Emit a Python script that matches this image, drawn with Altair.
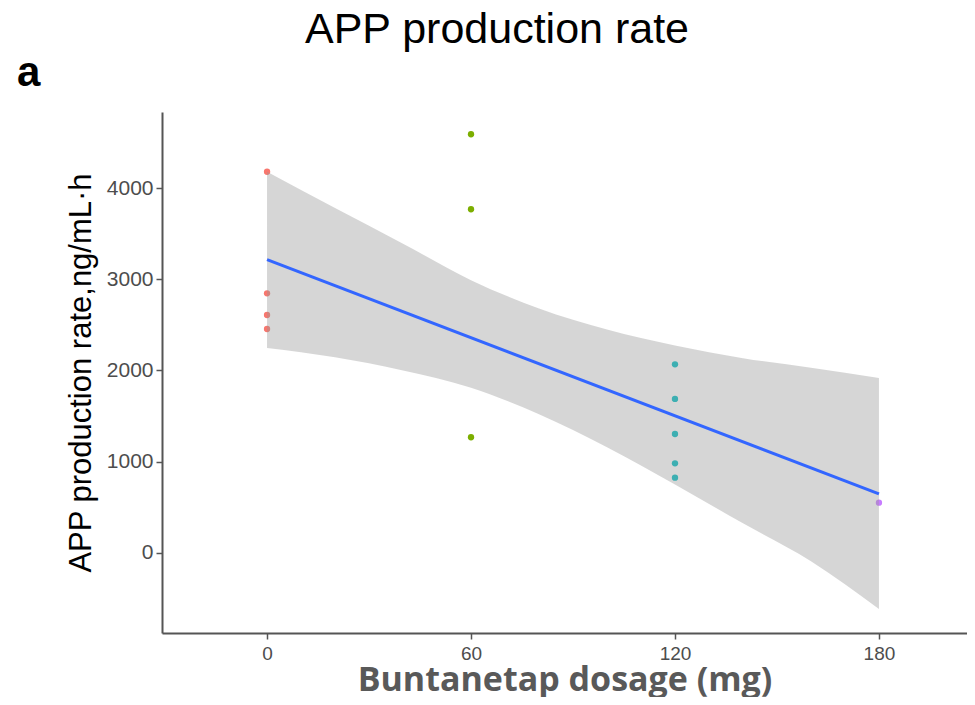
import altair as alt
import pandas as pd

# ---- data ----
dose_groups = ["0", "60", "120", "180"]
group_colors = ["#F8766D", "#7CAE00", "#00BFC4", "#C77CFF"]

pt_dose = [0, 0, 0, 0, 60, 60, 60, 120, 120, 120, 120, 120, 180]
pt_rate = [4178, 2846, 2608, 2455, 4589, 3767, 1268, 2068, 1688, 1304, 983, 825, 551]

fit_dose = [0, 180]
fit_rate = [3215, 647]

band_dose = [0, 20, 40, 60, 80, 100, 120, 140, 160, 180]
band_upper = [4178, 3780, 3390, 2990, 2680, 2450, 2275, 2135, 2030, 1918]
band_lower = [2247, 2145, 2000, 1810, 1520, 1160, 750, 325, -90, -614]

x_ticks = [0, 60, 120, 180]
y_ticks = [0, 1000, 2000, 3000, 4000]

chart_title = "APP production rate"
panel_tag = "a"

pts = pd.DataFrame({"dose": pt_dose, "rate": pt_rate,
                    "grp": [str(d) for d in pt_dose]})
fit = pd.DataFrame({"dose": fit_dose, "rate": fit_rate})
band = pd.DataFrame({"dose": band_dose, "upper": band_upper, "lower": band_lower})

xscale = alt.Scale(domain=[-30.9, 205.9], nice=False, zero=False)
yscale = alt.Scale(domain=[-877, 4833], nice=False, zero=False)

FONT = "Liberation Sans"

x_axis = alt.Axis(
    values=x_ticks, title="Buntanetap dosage (mg)", grid=False,
    domainColor="#555555", domainWidth=2, tickColor="#555555", tickWidth=1.5,
    tickSize=6, labelFont=FONT, labelFontSize=19, labelColor="#4D4D4D",
    labelPadding=5, titleFont="Open Sans", titleFontSize=34, titleFontWeight="bold",
    titleColor="#595959", titleBaseline="alphabetic", titleY=57,
)
y_axis = alt.Axis(
    values=y_ticks, format="d", title="APP production rate,ng/mL·h", grid=False,
    domainColor="#555555", domainWidth=2, tickColor="#555555", tickWidth=1.5,
    tickSize=6, labelFont=FONT, labelFontSize=21, labelColor="#4D4D4D",
    labelPadding=3, titleFont=FONT, titleFontSize=31, titleFontWeight="normal",
    titleColor="black", titlePadding=9,
)

points = alt.Chart(pts).mark_circle(size=40, opacity=1).encode(
    x=alt.X("dose:Q", scale=xscale, axis=x_axis),
    y=alt.Y("rate:Q", scale=yscale, axis=y_axis),
    color=alt.Color("grp:N", scale=alt.Scale(domain=dose_groups, range=group_colors),
                    legend=None),
)

ribbon = alt.Chart(band).mark_area(color="#999999", opacity=0.4,
                                   interpolate="monotone").encode(
    x=alt.X("dose:Q", scale=xscale),
    y=alt.Y("upper:Q", scale=yscale),
    y2="lower:Q",
)

line = alt.Chart(fit).mark_line(color="#3366FF", strokeWidth=3).encode(
    x=alt.X("dose:Q", scale=xscale),
    y=alt.Y("rate:Q", scale=yscale),
)

title_text = alt.Chart(pd.DataFrame({"t": [chart_title]})).mark_text(
    font=FONT, fontSize=43, fontWeight="normal", color="black",
    align="center", baseline="alphabetic",
).encode(text="t:N", x=alt.value(335), y=alt.value(-69))

panel_label = alt.Chart(pd.DataFrame({"t": [panel_tag]})).mark_text(
    font=FONT, fontSize=42, fontWeight="bold", color="black",
    align="left", baseline="alphabetic",
).encode(text="t:N", x=alt.value(-145), y=alt.value(-26))

chart = alt.layer(points, ribbon, line, title_text, panel_label).properties(
    width=805,
    height=521,
    padding={"left": 154, "top": 104, "right": 0, "bottom": 64},
    autosize=alt.AutoSizeParams(type="none"),
).configure_view(stroke=None)

chart.save("out.html", embed_options={"renderer": "svg", "actions": False})
